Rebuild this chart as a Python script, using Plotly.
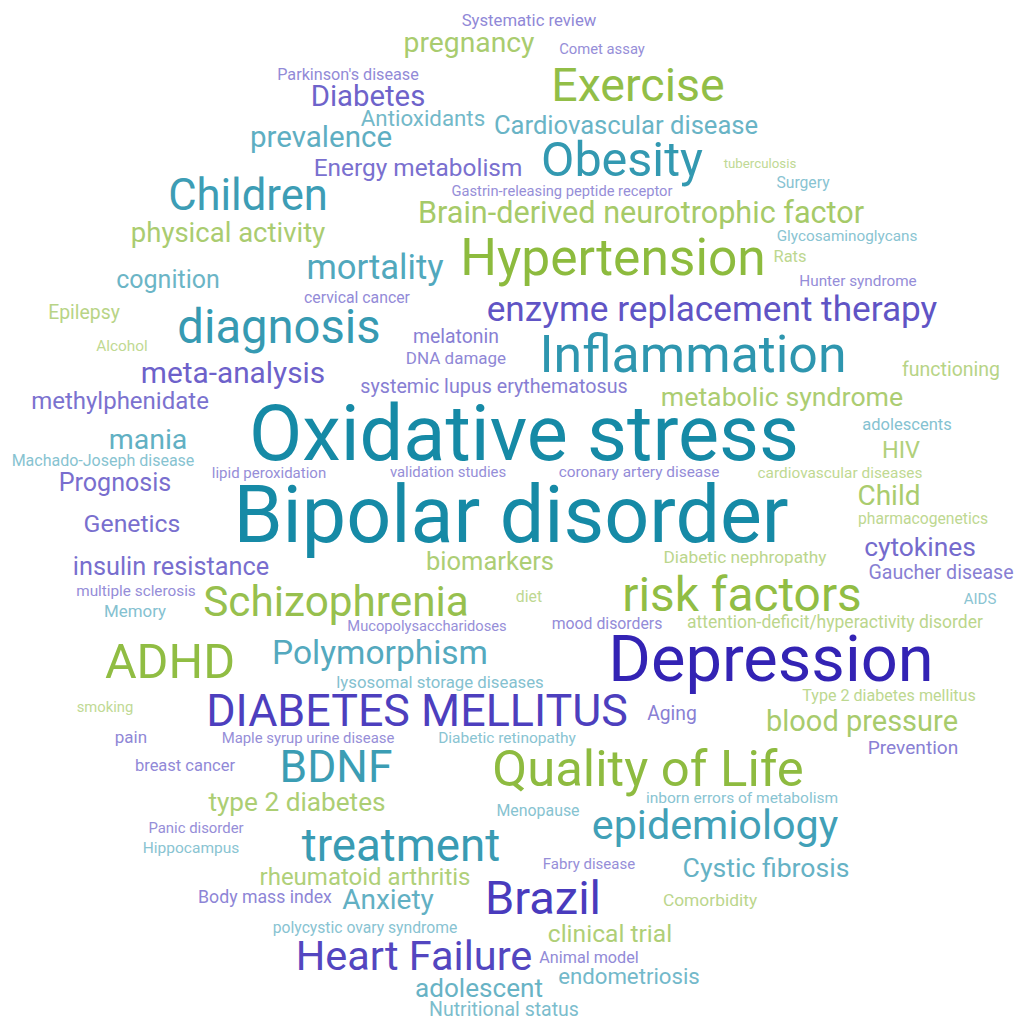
import plotly.graph_objects as go

# ---- data: keyword, frequency weight (rendered font size), colour cluster ----
words = [
    "Systematic review", "pregnancy", "Comet assay", "Parkinson's disease", "Exercise",
    "Diabetes", "Antioxidants", "Cardiovascular disease", "prevalence", "Obesity",
    "Energy metabolism", "tuberculosis", "Surgery", "Children", "Gastrin-releasing peptide receptor",
    "Brain-derived neurotrophic factor", "physical activity", "Glycosaminoglycans", "Hypertension", "Rats",
    "mortality", "cognition", "Hunter syndrome", "cervical cancer", "enzyme replacement therapy",
    "Epilepsy", "diagnosis", "melatonin", "Inflammation", "Alcohol",
    "DNA damage", "functioning", "meta-analysis", "systemic lupus erythematosus", "metabolic syndrome",
    "methylphenidate", "Oxidative stress", "adolescents", "mania", "HIV",
    "Machado-Joseph disease", "lipid peroxidation", "validation studies", "coronary artery disease", "cardiovascular diseases",
    "Prognosis", "Child", "Bipolar disorder", "pharmacogenetics", "Genetics",
    "cytokines", "Diabetic nephropathy", "biomarkers", "insulin resistance", "Gaucher disease",
    "multiple sclerosis", "Schizophrenia", "diet", "risk factors", "AIDS",
    "Memory", "Mucopolysaccharidoses", "mood disorders", "attention-deficit/hyperactivity disorder", "ADHD",
    "Polymorphism", "Depression", "lysosomal storage diseases", "Type 2 diabetes mellitus", "smoking",
    "DIABETES MELLITUS", "Aging", "blood pressure", "pain", "Maple syrup urine disease",
    "Diabetic retinopathy", "Prevention", "breast cancer", "BDNF", "Quality of Life",
    "type 2 diabetes", "inborn errors of metabolism", "Menopause", "epidemiology", "Panic disorder",
    "Hippocampus", "treatment", "Fabry disease", "Cystic fibrosis", "rheumatoid arthritis",
    "Body mass index", "Anxiety", "Brazil", "Comorbidity", "polycystic ovary syndrome",
    "clinical trial", "Heart Failure", "Animal model", "endometriosis", "adolescent",
    "Nutritional status",
]

weights = [
    16.7, 28.3, 14.8, 16.2, 46.5,
    29.3, 22.3, 25.6, 29.5, 48.5,
    24.4, 13.3, 15.7, 43.6, 14.7,
    30.6, 27.5, 15.3, 51.5, 16.5,
    34.6, 25.0, 15.3, 15.8, 35.2,
    19.4, 47.2, 19.4, 51.8, 15.4,
    17.0, 19.5, 29.8, 19.7, 26.7,
    24.0, 77.5, 16.5, 28.5, 23.5,
    16.0, 15.0, 14.9, 15.4, 15.4,
    25.1, 28.0, 79.0, 15.7, 24.8,
    26.4, 17.3, 25.5, 25.3, 19.6,
    15.3, 42.3, 15.8, 47.8, 15.0,
    16.9, 14.7, 15.8, 17.5, 48.6,
    33.5, 65.0, 16.8, 16.1, 14.8,
    44.8, 19.3, 29.0, 17.0, 14.9,
    15.5, 19.1, 16.5, 44.3, 50.8,
    26.2, 15.5, 15.9, 41.3, 14.9,
    15.5, 45.7, 15.0, 26.6, 24.0,
    17.7, 28.0, 47.0, 17.4, 15.7,
    24.6, 41.5, 16.2, 22.2, 26.1,
    19.5,
]

groups = [
    "p", "g", "p", "p", "g",
    "p", "t", "t", "t", "t",
    "p", "g", "t", "t", "p",
    "g", "g", "t", "g", "g",
    "t", "t", "p", "p", "p",
    "g", "t", "p", "t", "g",
    "p", "g", "p", "p", "g",
    "p", "t", "t", "t", "g",
    "t", "p", "p", "p", "g",
    "p", "g", "t", "g", "p",
    "p", "g", "g", "p", "p",
    "p", "g", "g", "g", "t",
    "t", "p", "p", "g", "g",
    "t", "p", "t", "g", "g",
    "p", "p", "g", "p", "p",
    "t", "p", "p", "t", "g",
    "g", "t", "t", "t", "p",
    "t", "t", "p", "t", "g",
    "p", "t", "p", "g", "t",
    "g", "p", "p", "t", "t",
    "t",
]

# ---- word-cloud layout (visual centre of each word, in canvas units) ----
x_pos = [
    529, 469, 602, 348, 638,
    368, 423, 626, 321, 622,
    418, 760, 803, 248, 562,
    641, 228, 847, 613, 790,
    375, 168, 858, 357, 712,
    84, 279, 456, 693, 122,
    456, 951, 233, 494, 782,
    120, 524, 907, 148, 901,
    103, 269, 448, 639, 840,
    115, 889, 511, 923, 132,
    920, 745, 490, 171, 941,
    136, 336, 529, 742, 980,
    135, 427, 607, 835, 170,
    380, 771, 440, 889, 105,
    417, 672, 862, 131, 308,
    507, 913, 185, 336, 648,
    297, 742, 538, 715, 196,
    191, 401, 589, 766, 365,
    265, 388, 543, 710, 365,
    610, 414, 589, 629, 479,
    504,
]

y_pos = [
    21, 43, 49, 75, 86,
    97, 119, 126, 138, 160,
    168, 164, 183, 196, 191,
    213, 233, 236, 259, 257,
    268, 280, 281, 298, 310,
    313, 328, 337, 355, 346,
    359, 370, 373, 387, 397,
    401, 435, 425, 440, 450,
    461, 473, 472, 472, 473,
    483, 496, 517, 519, 524,
    548, 557, 562, 567, 573,
    591, 602, 597, 596, 599,
    612, 626, 624, 622, 662,
    653, 660, 683, 696, 707,
    712, 714, 722, 738, 738,
    738, 748, 766, 768, 770,
    803, 798, 811, 826, 828,
    848, 846, 864, 868, 877,
    897, 900, 899, 900, 928,
    934, 957, 958, 977, 989,
    1010,
]

BASE = {"g": (128, 179, 40), "t": (22, 138, 166), "p": (44, 28, 178)}


def word_colour(group, w):
    r, g, b = BASE[group]
    t = max(0.0, min(1.0, (80.0 - w) / 65.0))
    t = 0.5 * t ** 1.9
    mix = lambda c: int(round(c + (255 - c) * t))
    return f"rgb({mix(r)},{mix(g)},{mix(b)})"


colours = [word_colour(g, w) for g, w in zip(groups, weights)]
# Plotly's "middle" anchor sits slightly above the glyph centre; compensate
y_anchor = [y + 0.07 * w for y, w in zip(y_pos, weights)]

fig = go.Figure(
    go.Scatter(
        x=x_pos,
        y=y_anchor,
        mode="text",
        text=words,
        textposition="middle center",
        textfont=dict(family="Roboto", size=weights, color=colours),
        hovertext=[f"{w}: {v}" for w, v in zip(words, weights)],
        hoverinfo="text",
        cliponaxis=False,
    )
)

fig.update_layout(
    width=1016,
    height=1020,
    margin=dict(l=0, r=0, t=0, b=0),
    paper_bgcolor="white",
    plot_bgcolor="white",
    showlegend=False,
    xaxis=dict(range=[0, 1016], visible=False, fixedrange=True),
    yaxis=dict(range=[1020, 0], visible=False, fixedrange=True),
)

fig.write_html(
    "out.html",
    config={"displayModeBar": False},
    post_script="document.body.style.margin='0px';document.body.style.overflow='hidden';",
)
